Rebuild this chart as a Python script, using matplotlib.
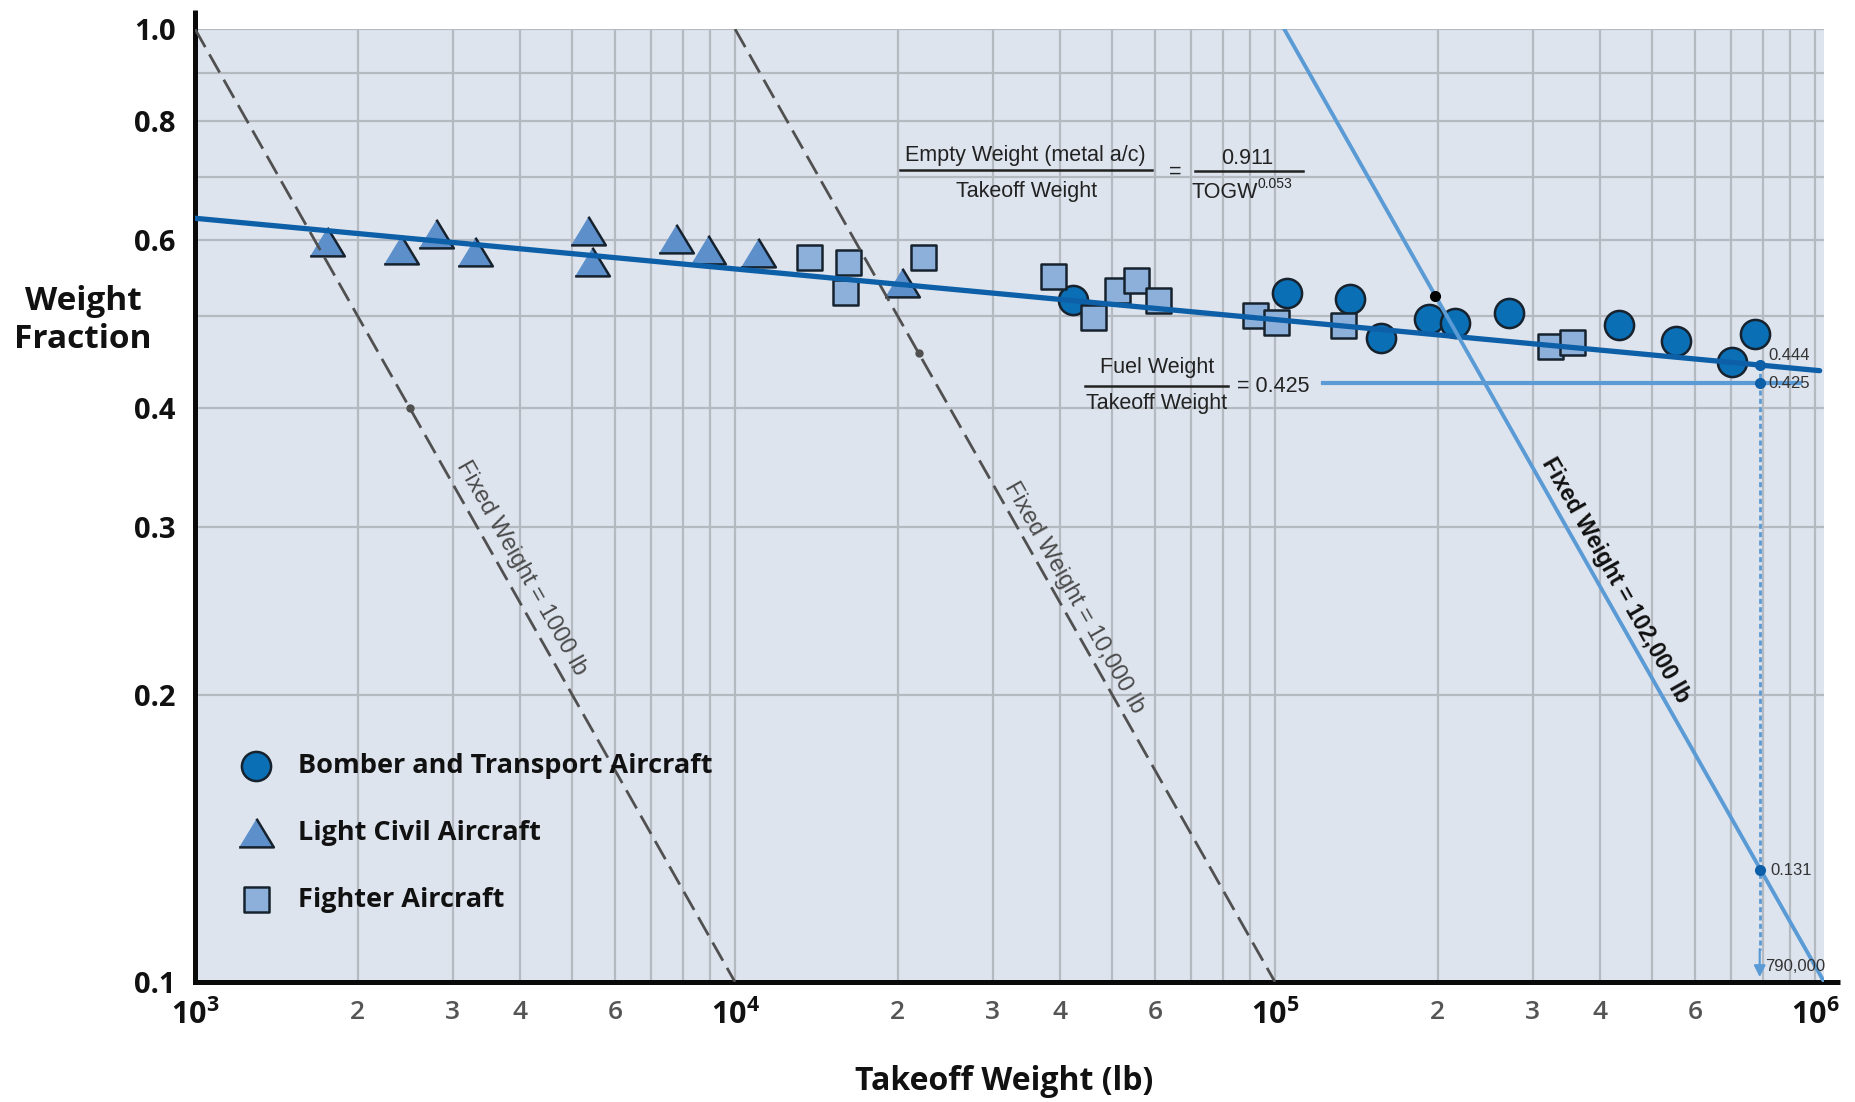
import math
import matplotlib
matplotlib.use("Agg")
import matplotlib.pyplot as plt
from matplotlib.lines import Line2D
from matplotlib.ticker import FixedLocator, FixedFormatter, NullFormatter

# ---------------- data ----------------
bomber_togw = [42220, 105400, 137800, 157300, 193200, 215700, 270700, 433200, 552000, 703100, 773500]
bomber_frac = [0.519, 0.528, 0.521, 0.474, 0.496, 0.491, 0.504, 0.489, 0.471, 0.447, 0.479]

light_civil_togw = [1754, 2407, 2795, 3300, 5337, 5427, 7777, 8925, 11045, 20350]
light_civil_frac = [0.598, 0.586, 0.610, 0.584, 0.614, 0.570, 0.602, 0.586, 0.582, 0.541]

fighter_togw = [13730, 16210, 15980, 22320, 38760, 46070, 50920, 55270, 60640,
                91830, 100400, 133800, 322900, 355300]
fighter_frac = [0.577, 0.569, 0.530, 0.577, 0.550, 0.499, 0.532, 0.545, 0.519,
                0.501, 0.493, 0.489, 0.465, 0.469]

trend_togw = [1000, 1020000]
trend_frac = [0.633, 0.438]

fixed1_togw, fixed1_frac = [1000, 10000], [1.0, 0.1]
fixed2_togw, fixed2_frac = [10000, 100000], [1.0, 0.1]
fixed3_togw, fixed3_frac = [104000, 1040000], [1.0, 0.1]
fixed_dot_togw = [2500, 21900]
fixed_dot_frac = [0.4, 0.457]
black_dot_togw, black_dot_frac = [198000], [0.525]

fuel_togw = [122800, 938000]
fuel_frac = [0.425, 0.425]

design_togw = 790000
design_fracs = [0.444, 0.425, 0.131]
design_labels = ["0.444", "0.425", "0.131"]
design_bottom = 0.1

y_major = [0.1, 0.2, 0.3, 0.4, 0.6, 0.8, 1.0]
y_major_labels = ["0.1", "0.2", "0.3", "0.4", "0.6", "0.8", "1.0"]
y_minor = [0.5, 0.7, 0.9]
x_ticks = [m * 10 ** e for e in (3, 4, 5) for m in range(1, 10)] + [1e6]
x_label_map = {1: None, 2: "2", 3: "3", 4: "4", 6: "6"}

legend_labels = ["Bomber and Transport Aircraft", "Light Civil Aircraft", "Fighter Aircraft"]

# ---------------- style ----------------
plt.rcParams["font.family"] = ["Open Sans", "DejaVu Sans"]
plt.rcParams["mathtext.fontset"] = "custom"
plt.rcParams["mathtext.rm"] = "Open Sans"
plt.rcParams["mathtext.bf"] = "Open Sans:bold"

W, H = 1856, 1102
fig = plt.figure(figsize=(W / 100, H / 100), dpi=100)
ax = fig.add_axes([195 / W, 1 - 982 / H, (1824 - 195) / W, (982 - 29) / H])
ax.set_xscale("log")
ax.set_yscale("log")
ax.set_xlim(1000, 10 ** (3 + 1629 / 540))
ax.set_ylim(0.1, 1.0)
ax.set_facecolor("#dde4ee")

# ticks / grid
ax.xaxis.set_major_locator(FixedLocator(x_ticks))
xl = []
for t in x_ticks:
    e = int(math.floor(math.log10(t) + 1e-9))
    m = int(round(t / 10 ** e))
    if m == 1:
        xl.append(r"$\mathbf{10^{%d}}$" % e)
    else:
        xl.append(x_label_map.get(m) or "")
ax.xaxis.set_major_formatter(FixedFormatter(xl))
ax.xaxis.set_minor_locator(FixedLocator([]))
ax.yaxis.set_major_locator(FixedLocator(y_major))
ax.yaxis.set_major_formatter(FixedFormatter(y_major_labels))
ax.yaxis.set_minor_locator(FixedLocator(y_minor))
ax.yaxis.set_minor_formatter(NullFormatter())
ax.grid(True, which="both", color="#b5bac0", lw=1.6, zorder=0)
ax.set_axisbelow(True)
ax.tick_params(axis="both", which="both", length=0)
ax.tick_params(axis="x", pad=13)
ax.tick_params(axis="y", pad=14)
for lab, t in zip(ax.get_xticklabels(), x_ticks):
    if lab.get_text().startswith("$"):
        lab.set_fontsize(22)
        lab.set_color("#111111")
    else:
        lab.set_fontsize(19)
        lab.set_fontweight("semibold")
        lab.set_color("#555555")
for lab in ax.get_yticklabels():
    lab.set_fontsize(21)
    lab.set_fontweight("bold")
    lab.set_color("#111111")

for s in ("top", "right"):
    ax.spines[s].set_visible(False)
for s in ("left", "bottom"):
    ax.spines[s].set_linewidth(3.6)
    ax.spines[s].set_color("#0a0a0a")
ax.plot([0, 0], [1.0, 1.02], transform=ax.transAxes, clip_on=False, color="#0a0a0a", lw=3.6, solid_capstyle="butt")
ax.plot([1.0, 1.01], [0, 0], transform=ax.transAxes, clip_on=False, color="#0a0a0a", lw=3.6, solid_capstyle="butt")

# fixed-weight lines
dash = (0, (7.5, 3))
ax.plot(fixed1_togw, fixed1_frac, color="#505050", lw=2.0, ls=dash, zorder=3.5)
ax.plot(fixed2_togw, fixed2_frac, color="#505050", lw=2.0, ls=dash, zorder=3.5)
ax.plot(fixed3_togw, fixed3_frac, color="#5b9bd5", lw=2.8, zorder=4.5)
ax.plot(fixed_dot_togw, fixed_dot_frac, "o", color="#505050", ms=5, zorder=5)
ax.plot(black_dot_togw, black_dot_frac, "o", color="#000000", ms=7, zorder=5)

# scatter
edge = "#16222e"
tri = [(-1, -0.8), (1, -0.8), (0, 0.85)]
sc_b = ax.scatter(bomber_togw, bomber_frac, s=21 ** 2, marker="o", facecolor="#0a6fb5",
                  edgecolor=edge, linewidth=1.8, zorder=3)
sc_t = ax.scatter(light_civil_togw, light_civil_frac, s=25 ** 2, marker=tri, facecolor="#5d8fca",
                  edgecolor=edge, linewidth=1.8, zorder=3)
sc_s = ax.scatter(fighter_togw, fighter_frac, s=18 ** 2, marker="s", facecolor="#8db0da",
                  edgecolor=edge, linewidth=1.8, zorder=3)

# trend
ax.plot(trend_togw, trend_frac, color="#0d5fa8", lw=3.8, zorder=4, solid_capstyle="round")

# fuel line & design point
ax.plot(fuel_togw, fuel_frac, color="#5b9bd5", lw=3.0, zorder=4)
ax.plot([design_togw, design_togw], [design_fracs[0], design_bottom * 1.08], color="#5b9bd5",
        lw=2.0, ls=(0, (1.8, 1.2)), zorder=4)
ax.annotate("", xy=(design_togw, design_bottom * 1.005), xytext=(design_togw, design_bottom * 1.09),
            arrowprops=dict(arrowstyle="-|>", color="#5b9bd5", lw=1.6, mutation_scale=17), zorder=4)
ax.plot([design_togw] * 3, design_fracs, "o", color="#0d5fa8", ms=7, zorder=6)
small = dict(family=["Liberation Sans Narrow", "Liberation Sans"], size=12, color="#333333")
offs = [(6, 7), (6, 0), (8, 0)]
for f, lab, o in zip(design_fracs, design_labels, offs):
    ax.annotate(lab, xy=(design_togw, f), xytext=o, textcoords="offset points",
                ha="left", va="center", zorder=7, **small)
ax.annotate(f"{design_togw:,}", xy=(design_togw, design_bottom), xytext=(4, 11),
            textcoords="offset points", ha="left", va="center", zorder=7, **small)

# rotated labels along fixed-weight lines
def angle(xs, ys):
    p1 = ax.transData.transform((xs[0], ys[0]))
    p2 = ax.transData.transform((xs[1], ys[1]))
    return math.degrees(math.atan2(p2[1] - p1[1], p2[0] - p1[0]))

lab_font = ["Liberation Sans", "DejaVu Sans"]
ax.text(4016, 0.272, "Fixed Weight = 1000 lb", rotation=angle(fixed1_togw, fixed1_frac),
        rotation_mode="anchor", ha="center", va="center", family=lab_font, size=17, color="#4a4a4a", zorder=6)
ax.text(42440, 0.2529, "Fixed Weight = 10,000 lb", rotation=angle(fixed2_togw, fixed2_frac),
        rotation_mode="anchor", ha="center", va="center", family=lab_font, size=17, color="#4a4a4a", zorder=6)
ax.text(428000, 0.264, "Fixed Weight = 102,000 lb", rotation=angle(fixed3_togw, fixed3_frac),
        rotation_mode="anchor", ha="center", va="center", family=lab_font, size=16.5,
        weight="bold", color="#111111", zorder=6)

# equations (figure pixel positions)
def fp(x, y):
    return x / W, 1 - y / H

eq = dict(family=lab_font, size=15.5, color="#222222", ha="center", va="center")
fig.text(*fp(1025, 156), "Empty Weight (metal a/c)", **eq)
fig.text(*fp(1027, 191), "Takeoff Weight", **eq)
fig.add_artist(Line2D([900 / W, 1152 / W], [1 - 170 / H] * 2, transform=fig.transFigure, color="#222222", lw=1.8))
fig.text(*fp(1175, 172), "=", **eq)
fig.text(*fp(1247, 158), "0.911", **eq)
fig.add_artist(Line2D([1195 / W, 1303 / W], [1 - 171 / H] * 2, transform=fig.transFigure, color="#222222", lw=1.8))
fig.text(*fp(1225, 193), "TOGW", **eq)
fig.text(*fp(1258, 184), "0.053", family=lab_font, size=10, color="#222222", ha="left", va="center")

fig.text(*fp(1157, 367), "Fuel Weight", **eq)
fig.text(*fp(1157, 403), "Takeoff Weight", **eq)
fig.add_artist(Line2D([1085 / W, 1228 / W], [1 - 386 / H] * 2, transform=fig.transFigure, color="#222222", lw=1.8))
fig.text(*fp(1237, 387), "= 0.425", family=lab_font, size=15.5, color="#222222", ha="left", va="center")

# legend
leg = ax.legend(handles=[sc_b, sc_t, sc_s], labels=legend_labels, loc="upper left",
                bbox_to_anchor=(0.026, 0.24), frameon=False,
                prop=dict(family="Open Sans", weight="bold", size=19.5),
                handlelength=1.4, handletextpad=0.85, labelspacing=1.5, borderpad=0,
                borderaxespad=0, scatterpoints=1)
for t in leg.get_texts():
    t.set_color("#111111")

# axis titles
fig.text(*fp(83, 320), "Weight\nFraction", ha="center", va="center", size=24, weight="bold",
         linespacing=1.2, color="#111111")
fig.text(*fp(1004, 1081), "Takeoff Weight (lb)", ha="center", va="center", size=23, weight="bold",
         color="#111111")

fig.savefig("out.png", dpi=100)
